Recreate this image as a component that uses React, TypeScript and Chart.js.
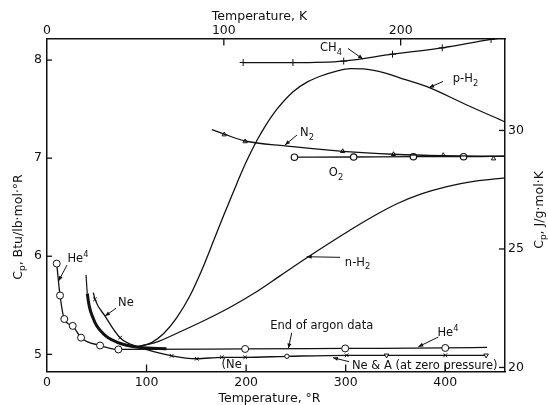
import React, { useEffect, useRef } from "react";
import { Chart, registerables } from "chart.js";

Chart.register(...registerables);

// ---- axis ticks ----
const tempRTicks = [0, 100, 200, 300, 400];
const tempKTicks = [0, 100, 200];
const cpBtuTicks = [5, 6, 7, 8];
const cpJTicks = [20, 25, 30];

// ---- CH4 ----
const ch4T = [197, 247, 298, 347, 397, 446, 460];
const ch4Cp = [7.975, 7.975, 7.99, 8.06, 8.125, 8.21, 8.23];
const ch4Marked = [1, 1, 1, 1, 1, 1, 0];

// ---- p-H2 ----
const pH2T = [92, 105, 117, 130, 143.7, 155.5, 167, 178, 190.6, 200, 210.8, 220, 231, 247.5, 262, 274.4, 290, 305, 320, 339, 360, 384, 420, 460];
const pH2Cp = [5.075, 5.12, 5.21, 5.37, 5.6, 5.86, 6.15, 6.43, 6.74, 6.96, 7.18, 7.34, 7.5, 7.68, 7.78, 7.835, 7.885, 7.912, 7.908, 7.87, 7.8, 7.72, 7.55, 7.37];

// ---- n-H2 ----
const nH2T = [91, 110, 133.7, 160, 184, 210, 234, 261, 301, 330, 351.5, 376, 401.7, 430, 460];
const nH2Cp = [5.08, 5.125, 5.23, 5.355, 5.48, 5.635, 5.8, 5.985, 6.245, 6.42, 6.535, 6.635, 6.71, 6.765, 6.8];

// ---- N2 ----
const n2CurveT = [165.5, 178, 199, 239, 297, 348, 398, 460];
const n2CurveCp = [7.29, 7.245, 7.175, 7.125, 7.07, 7.04, 7.025, 7.02];
const n2PointT = [178, 199, 297, 348, 398, 448.5];
const n2PointCp = [7.24, 7.17, 7.07, 7.04, 7.03, 6.995];

// ---- O2 ----
const o2T = [248.5, 308, 368, 418.4, 460];
const o2Cp = [7.01, 7.012, 7.015, 7.015, 7.02];
const o2Marked = [1, 1, 1, 1, 0];

// ---- He4 ----
const he4T = [9.75, 13.1, 17.4, 25.8, 34.2, 53.3, 71.7, 199, 299.5, 400, 442];
const he4Cp = [5.925, 5.6, 5.36, 5.29, 5.17, 5.09, 5.05, 5.055, 5.06, 5.065, 5.07];
const he4Marked = [1, 1, 1, 1, 1, 1, 1, 1, 1, 1, 0];

// ---- Ne (heavy curve) ----
const neHeavyT = [39.2, 40.5, 46.5, 56.6, 70, 93.5, 120];
const neHeavyCp = [5.81, 5.62, 5.365, 5.21, 5.125, 5.07, 5.058];

// ---- Ne & A (at zero pressure) ----
const neAT = [46.5, 48.2, 58.3, 73.4, 93.5, 125.3, 150.4, 175.6, 199, 241, 301, 341, 400, 441];
const neACp = [5.63, 5.56, 5.39, 5.17, 5.07, 4.985, 4.955, 4.97, 4.97, 4.98, 4.99, 4.99, 4.99, 4.99];
const neAMarker = ["", "x", "", "x", "", "x", "x", "x", "x", "o", "x", "v", "x", "v"];

const INK = "#111";
const FONT = '"DejaVu Sans", sans-serif';

type Part = [string, "n" | "sub" | "sup"];

function drawRich(ctx: CanvasRenderingContext2D, parts: Part[], x: number, y: number, size: number, align: "left" | "center" = "center") {
  const fN = `${size}px ${FONT}`;
  const fS = `${(size * 0.72).toFixed(1)}px ${FONT}`;
  let w = 0;
  const ws = parts.map(([t, k]) => {
    ctx.font = k === "n" ? fN : fS;
    const m = ctx.measureText(t).width;
    w += m;
    return m;
  });
  let cx = align === "center" ? x - w / 2 : x;
  const base = y + size * 0.36;
  ctx.textAlign = "left";
  ctx.textBaseline = "alphabetic";
  parts.forEach(([t, k], i) => {
    ctx.font = k === "n" ? fN : fS;
    const dy = k === "sub" ? size * 0.3 : k === "sup" ? -size * 0.45 : 0;
    ctx.fillText(t, cx, base + dy);
    cx += ws[i];
  });
}

function arrow(ctx: CanvasRenderingContext2D, x1: number, y1: number, x2: number, y2: number) {
  ctx.beginPath();
  ctx.moveTo(x1, y1);
  ctx.lineTo(x2, y2);
  ctx.stroke();
  const a = Math.atan2(y2 - y1, x2 - x1);
  const L = 5, W = 2;
  ctx.beginPath();
  ctx.moveTo(x2, y2);
  ctx.lineTo(x2 - L * Math.cos(a) + W * Math.sin(a), y2 - L * Math.sin(a) - W * Math.cos(a));
  ctx.lineTo(x2 - L * Math.cos(a) - W * Math.sin(a), y2 - L * Math.sin(a) + W * Math.cos(a));
  ctx.closePath();
  ctx.fill();
}

// annotation labels in data coordinates (°R, Btu)
const labels: { parts: Part[]; x: number; y: number; align?: "left" | "center" }[] = [
  { parts: [["CH", "n"], ["4", "sub"]], x: 285.2, y: 8.133 },
  { parts: [["p-H", "n"], ["2", "sub"]], x: 420.3, y: 7.817 },
  { parts: [["N", "n"], ["2", "sub"]], x: 261.1, y: 7.267 },
  { parts: [["O", "n"], ["2", "sub"]], x: 290.3, y: 6.859 },
  { parts: [["n-H", "n"], ["2", "sub"]], x: 311.9, y: 5.944 },
  { parts: [["He", "n"], ["4", "sup"]], x: 31.1, y: 5.979 },
  { parts: [["Ne", "n"]], x: 79.3, y: 5.537 },
  { parts: [["End of argon data", "n"]], x: 275.9, y: 5.299 },
  { parts: [["He", "n"], ["4", "sup"]], x: 402.7, y: 5.23 },
  { parts: [["(Ne", "n"]], x: 185.5, y: 4.901 },
  { parts: [["Ne & A (at zero pressure)", "n"]], x: 306.3, y: 4.891, align: "left" },
];

const arrows: [number, number, number, number][] = [
  [302.3, 8.118, 317.4, 8.01],
  [397.7, 7.782, 383.7, 7.719],
  [251.1, 7.236, 239, 7.134],
  [294.3, 5.989, 260.8, 5.995],
  [20.1, 5.91, 11.6, 5.747],
  [69.3, 5.47, 58.3, 5.39],
  [245.8, 5.22, 242.4, 5.06],
  [393, 5.176, 372.9, 5.077],
  [303.3, 4.925, 287.2, 4.966],
];

const decor = {
  id: "decor",
  afterDraw(chart: any) {
    const { ctx, scales, chartArea: a } = chart;
    const X = (v: number) => scales.x.getPixelForValue(v);
    const Y = (v: number) => scales.y.getPixelForValue(v);
    ctx.save();
    ctx.strokeStyle = INK;
    ctx.fillStyle = INK;
    ctx.lineWidth = 1.3;
    const seg = (x1: number, y1: number, x2: number, y2: number) => {
      ctx.beginPath();
      ctx.moveTo(x1, y1);
      ctx.lineTo(x2, y2);
      ctx.stroke();
    };
    tempRTicks.slice(1).forEach((v) => seg(X(v), a.bottom, X(v), a.bottom - 7));
    tempKTicks.slice(1).forEach((v) => {
      const p = scales.xK.getPixelForValue(v);
      seg(p, a.top, p, a.top + 7);
    });
    cpBtuTicks.forEach((v) => seg(a.left, Y(v), a.left + 5, Y(v)));
    cpJTicks.forEach((v) => {
      const p = scales.yJ.getPixelForValue(v);
      seg(a.right, p, a.right - 6, p);
    });

    // axis titles
    drawRich(ctx, [["Temperature, °R", "n"]], 269.5, 397, 12.5);
    drawRich(ctx, [["Temperature, K", "n"]], 259.5, 15, 12.5);
    ctx.save();
    ctx.translate(17, 227);
    ctx.rotate(-Math.PI / 2);
    drawRich(ctx, [["C", "n"], ["p", "sub"], [", Btu/lb·mol·°R", "n"]], 0, 0, 12.5);
    ctx.restore();
    ctx.save();
    ctx.translate(538, 210);
    ctx.rotate(-Math.PI / 2);
    drawRich(ctx, [["C", "n"], ["p", "sub"], [", J/g·mol·K", "n"]], 0, 0, 12.5);
    ctx.restore();

    // annotations
    labels.forEach((l) => drawRich(ctx, l.parts, X(l.x), Y(l.y), 11.5, l.align || "center"));
    ctx.lineWidth = 1;
    arrows.forEach(([x1, y1, x2, y2]) => arrow(ctx, X(x1), Y(y1), X(x2), Y(y2)));
    ctx.restore();
  },
};

const pts = (xs: number[], ys: number[]) => xs.map((x, i) => ({ x, y: ys[i] }));

export default function App() {
  const ref = useRef<HTMLCanvasElement>(null);
  useEffect(() => {
    Chart.defaults.font.family = FONT;
    const base = {
      xAxisID: "x",
      yAxisID: "y",
      borderColor: INK,
      backgroundColor: INK,
      borderWidth: 1.3,
      fill: false,
      pointRadius: 0,
      pointHoverRadius: 0,
      cubicInterpolationMode: "monotone" as const,
    };
    const datasets: any[] = [
      {
        ...base,
        label: "CH4",
        data: pts(ch4T, ch4Cp),
        pointStyle: "cross",
        pointRadius: ch4Marked.map((m) => (m ? 3.5 : 0)),
        pointBorderWidth: 1,
        pointBorderColor: INK,
      },
      { ...base, label: "p-H2", data: pts(pH2T, pH2Cp) },
      { ...base, label: "n-H2", data: pts(nH2T, nH2Cp) },
      { ...base, label: "N2 curve", data: pts(n2CurveT, n2CurveCp) },
      {
        ...base,
        label: "N2 data",
        data: pts(n2PointT, n2PointCp),
        showLine: false,
        pointStyle: "triangle",
        pointRadius: 2.5,
        pointBorderWidth: 1,
        pointBorderColor: INK,
        pointBackgroundColor: "#fff",
      },
      {
        ...base,
        label: "O2",
        data: pts(o2T, o2Cp),
        pointStyle: "circle",
        pointRadius: o2Marked.map((m) => (m ? 3.2 : 0)),
        pointBorderWidth: 1.2,
        pointBorderColor: INK,
        pointBackgroundColor: "#fff",
      },
      {
        ...base,
        label: "O2 dots",
        data: pts(o2T, o2Cp),
        showLine: false,
        pointStyle: "circle",
        pointRadius: o2Marked.map((m) => (m ? 1.1 : 0)),
        pointBorderWidth: 0,
        pointBackgroundColor: INK,
      },
      {
        ...base,
        label: "He4",
        data: pts(he4T, he4Cp),
        pointStyle: "circle",
        pointRadius: he4Marked.map((m) => (m ? 3.5 : 0)),
        pointBorderWidth: 1,
        pointBorderColor: INK,
        pointBackgroundColor: "#fff",
      },
      {
        ...base,
        label: "Ne heavy",
        data: pts(neHeavyT, neHeavyCp),
        segment: { borderWidth: (c: any) => (c.p0DataIndex === 0 ? 1.2 : 3) },
      },
      {
        ...base,
        label: "Ne & A",
        data: pts(neAT, neACp),
        pointStyle: neAMarker.map((m) => (m === "x" ? "crossRot" : m === "v" ? "triangle" : "circle")),
        pointRotation: neAMarker.map((m) => (m === "v" ? 180 : 0)),
        pointRadius: neAMarker.map((m) => (m === "" ? 0 : m === "o" ? 2.2 : 2.6)),
        pointBorderWidth: 1,
        pointBorderColor: INK,
        pointBackgroundColor: "#fff",
      },
    ];

    const tickFont = { family: FONT, size: 12.5 };
    const common = (pos: string) => ({
      type: "linear" as const,
      position: pos,
      grid: { display: false, drawTicks: false, tickLength: 0 },
      border: { display: true, color: INK, width: 1.5 },
    });

    const chart = new Chart(ref.current!, {
      type: "line",
      data: { datasets },
      options: {
        animation: false,
        responsive: true,
        maintainAspectRatio: false,
        events: [],
        layout: { padding: 0 },
        plugins: { legend: { display: false }, tooltip: { enabled: false } },
        scales: {
          x: {
            ...common("bottom"),
            min: 0,
            max: 460,
            afterBuildTicks: (s: any) => {
              s.ticks = tempRTicks.map((v) => ({ value: v }));
            },
            afterFit: (s: any) => {
              s.height = 33.5;
            },
            ticks: { padding: 4, color: INK, font: tickFont, maxRotation: 0, autoSkip: false },
          },
          xK: {
            ...common("top"),
            min: 0,
            max: 259,
            afterBuildTicks: (s: any) => {
              s.ticks = tempKTicks.map((v) => ({ value: v }));
            },
            afterFit: (s: any) => {
              s.height = 38.5;
            },
            ticks: { padding: 0, color: INK, font: tickFont, maxRotation: 0, autoSkip: false },
          },
          y: {
            ...common("left"),
            min: 4.825,
            max: 8.22,
            afterBuildTicks: (s: any) => {
              s.ticks = cpBtuTicks.map((v) => ({ value: v }));
            },
            afterFit: (s: any) => {
              s.width = 47;
            },
            ticks: { padding: 5, color: INK, font: tickFont, autoSkip: false },
          },
          yJ: {
            ...common("right"),
            min: 19.83,
            max: 33.88,
            afterBuildTicks: (s: any) => {
              s.ticks = cpJTicks.map((v) => ({ value: v }));
            },
            afterFit: (s: any) => {
              s.width = 43;
            },
            ticks: { padding: 3, color: INK, font: tickFont, autoSkip: false },
          },
        } as any,
      },
      plugins: [decor],
    });
    return () => chart.destroy();
  }, []);

  return (
    <div style={{ position: "fixed", left: 0, top: 0, width: 548, height: 405, background: "#fff" }}>
      <canvas ref={ref} />
    </div>
  );
}
